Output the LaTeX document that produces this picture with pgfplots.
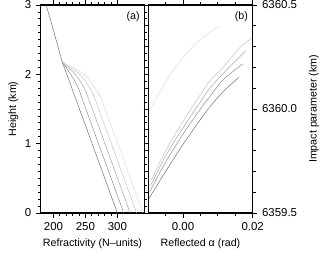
\documentclass[border=0pt]{standalone}
\usepackage{fontspec}
\setmainfont{Liberation Sans}
\usepackage{pgfplots}
\pgfplotsset{compat=1.18}
\definecolor{c1}{gray}{0.48}
\definecolor{c2}{gray}{0.58}
\definecolor{c3}{gray}{0.67}
\definecolor{c4}{gray}{0.77}
\definecolor{c5}{gray}{0.87}
\pgfplotsset{
  every axis/.append style={
    scale only axis,
    clip=false,
    font=\fontsize{8}{9.6}\selectfont,
    tick label style={font=\fontsize{8.6}{10}\selectfont},
    /pgf/number format/assume math mode=true,
    axis line style={line width=1pt},
    xtick pos=both, ytick pos=both,
    tick align=outside,
    every tick/.style={line width=0.6pt, black},
    tickwidth=3.5pt,
    subtickwidth=2.2pt,
  },
}
\begin{document}
\begin{tikzpicture}
\useasboundingbox (0,0) rectangle (240pt,192pt);
% Panel (a)
\begin{axis}[
  at={(30.5pt,32.25pt)}, anchor=south west,
  width=77.7pt, height=156pt,
  xmin=180, xmax=342, ymin=0, ymax=3,
  xtick={200,250,300}, minor x tick num=4,
  ytick={0,1,2,3}, minor y tick num=9,
  xticklabel pos=left, yticklabel pos=left,
  xlabel={Refractivity (N--units)},
  ylabel={Height (km)},
  xlabel style={yshift=1pt},
  ylabel style={yshift=-2pt},
]
\addplot[c1, line width=0.4pt] coordinates {(188.5,3.0) (195,2.8) (201,2.6) (207,2.4) (213,2.2) (300,0)};
\addplot[c2, line width=0.4pt, smooth] coordinates {(213,2.2) (215,2.15) (220,2.1) (227,2.0) (233.5,1.9) (239,1.8) (243,1.7) (246.8,1.6) (310,0)};
\addplot[c3, line width=0.4pt, smooth] coordinates {(213,2.2) (216.5,2.15) (223,2.1) (234,2.0) (242,1.9) (248,1.8) (252.8,1.7) (256.8,1.6) (320,0)};
\addplot[c4, line width=0.4pt, smooth] coordinates {(213,2.2) (218,2.15) (226.5,2.1) (241,2.0) (250,1.9) (257,1.8) (262.5,1.7) (266.8,1.6) (330,0)};
\addplot[c5, line width=0.4pt, smooth] coordinates {(213,2.2) (219.5,2.15) (230,2.1) (248,2.0) (258,1.9) (265,1.8) (271.5,1.7) (276.8,1.6) (340,0)};
\node[anchor=north east, inner sep=1pt] at (rel axis cs:0.97,0.975) {(a)};
\end{axis}
% Panel (b)
\begin{axis}[
  at={(111.2pt,32.25pt)}, anchor=south west,
  width=78.3pt, height=156pt,
  xmin=-0.01, xmax=0.02, ymin=6359.5, ymax=6360.5,
  xtick={0,0.02}, minor xtick={-0.005,0.005,0.01,0.015},
  ytick={6359.5,6360,6360.5}, minor y tick num=4,
  xticklabel style={/pgf/number format/.cd, fixed, fixed zerofill, precision=2},
  yticklabel style={/pgf/number format/.cd, fixed, fixed zerofill, precision=1, 1000 sep={}},
  scaled x ticks=false, scaled y ticks=false,
  xticklabel pos=left, yticklabel pos=right,
  xlabel={Reflected α (rad)},
  ylabel={Impact parameter (km)},
  xlabel style={yshift=1pt},
  ylabel shift=2pt,
]
\addplot[c1, line width=0.4pt, smooth] coordinates {(-0.00977,6359.571) (-0.005,6359.70) (0,6359.83) (0.005,6359.95) (0.0077,6360.01) (0.0115,6360.083) (0.016,6360.152)};
\addplot[c2, line width=0.4pt, smooth] coordinates {(-0.00957,6359.603) (-0.005,6359.745) (0,6359.88) (0.005,6360.0) (0.0077,6360.06) (0.0115,6360.14) (0.01707,6360.216)};
\addplot[c3, line width=0.4pt, smooth] coordinates {(-0.00937,6359.63) (-0.005,6359.775) (0,6359.91) (0.005,6360.035) (0.0077,6360.1) (0.0115,6360.17) (0.018,6360.28)};
\addplot[c4, line width=0.4pt, smooth] coordinates {(-0.00908,6359.659) (-0.005,6359.80) (0,6359.94) (0.005,6360.07) (0.0077,6360.135) (0.0115,6360.2) (0.016,6360.29) (0.0197,6360.34)};
\addplot[c5, line width=0.4pt, smooth] coordinates {(-0.0096,6359.995) (-0.0066,6360.086) (-0.0036,6360.166) (-0.0006,6360.235) (0.0024,6360.293) (0.0054,6360.341) (0.0084,6360.378) (0.01055,6360.398)};
\node[anchor=north east, inner sep=1pt] at (rel axis cs:0.97,0.975) {(b)};
\end{axis}
\end{tikzpicture}
\end{document}
